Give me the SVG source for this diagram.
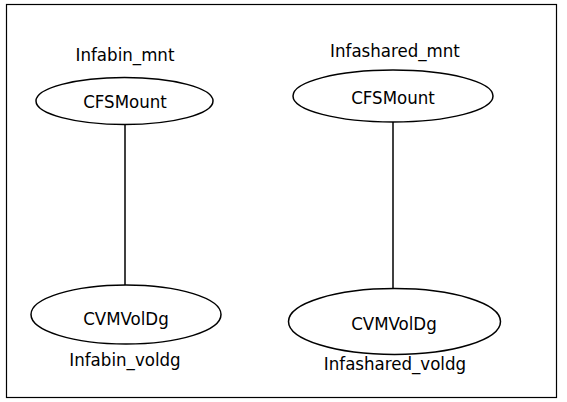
<svg xmlns="http://www.w3.org/2000/svg" width="567" height="402" viewBox="0 0 567 402">
<style>
.n{fill:#fff;stroke:#000;stroke-width:1.5}
.t{font-family:"DejaVu Sans Condensed","DejaVu Sans","Liberation Sans",sans-serif;font-stretch:condensed;font-size:18.5px;fill:#000;text-anchor:middle}
.e{stroke:#000;stroke-width:1.5;fill:none}
</style>
<rect x="6.5" y="4.5" width="550" height="393" fill="#fff" stroke="#000" stroke-width="1.2"/>
<g id="connectors">
<line class="e" x1="125" y1="125" x2="125" y2="285"/>
<line class="e" x1="393" y1="122" x2="393" y2="289"/>
</g>
<g id="binmnt">
<text class="t" x="125" y="61">Infabin_mnt</text>
<ellipse class="n" cx="124.5" cy="101" rx="88.5" ry="23.5"/>
<text class="t" x="125" y="108">CFSMount</text>
</g>
<g id="sharedmnt">
<text class="t" x="395" y="57">Infashared_mnt</text>
<ellipse class="n" cx="393" cy="96" rx="100" ry="26"/>
<text class="t" x="393" y="104">CFSMount</text>
</g>
<g id="binvoldg">
<ellipse class="n" cx="126" cy="314.5" rx="95" ry="29.5"/>
<text class="t" x="126" y="325">CVMVolDg</text>
<text class="t" x="125" y="366">Infabin_voldg</text>
</g>
<g id="sharedvoldg">
<ellipse class="n" cx="394.5" cy="321.5" rx="106" ry="33"/>
<text class="t" x="394" y="330">CVMVolDg</text>
<text class="t" x="395" y="370">Infashared_voldg</text>
</g>
</svg>
